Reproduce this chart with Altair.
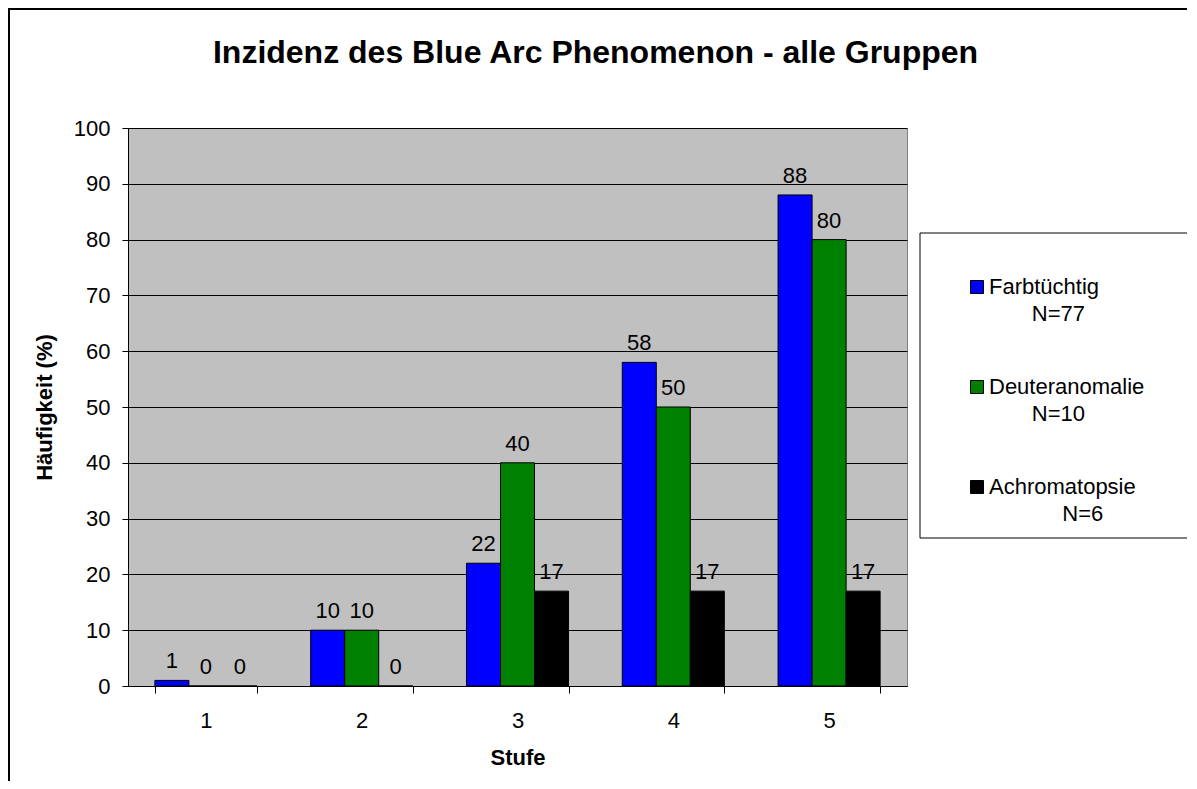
import altair as alt
import pandas as pd

# ---- data ----
stufen = ["1", "2", "3", "4", "5"]
gruppen = ["Farbtüchtig", "Deuteranomalie", "Achromatopsie"]
farbtuechtig = [1, 10, 22, 58, 88]
deuteranomalie = [0, 10, 40, 50, 80]
achromatopsie = [0, 0, 17, 17, 17]
n_werte = ["N=77", "N=10", "N=6"]
n_einzug = [7, 7, 12]  # indentation of the second legend line (non-breaking spaces)
farben = ["#0000FF", "#008000", "#000000"]
y_ticks = [0, 10, 20, 30, 40, 50, 60, 70, 80, 90, 100]

rows = []
for g, vals in zip(gruppen, [farbtuechtig, deuteranomalie, achromatopsie]):
    for s, v in zip(stufen, vals):
        rows.append({"Stufe": s, "Gruppe": g, "Wert": v})
df = pd.DataFrame(rows)

FONT = "Liberation Sans"
W, H = 779, 558

# legend label expression producing two-line labels
parts = []
for g, n, k in zip(gruppen, n_werte, n_einzug):
    indent = "\u200b" + "\u00a0" * k
    parts.append(f"datum.label == '{g}' ? ['{g}', '{indent}{n}']")
label_expr = " : ".join(parts) + " : datum.label"

x_enc = alt.X(
    "Stufe:N",
    sort=stufen,
    title="Stufe",
    scale=alt.Scale(paddingInner=0.345, paddingOuter=0.1725),
    axis=alt.Axis(
        labelAngle=0,
        tickBand="extent",
        tickSize=7,
        tickColor="black",
        domainColor="black",
        labelPadding=17,
        labelFontSize=22,
        labelFont=FONT,
        labelColor="black",
        titleFontSize=22,
        titleFont=FONT,
        titleFontWeight="bold",
        titleColor="black",
        titlePadding=16,
        grid=False,
    ),
)
xoff = alt.XOffset("Gruppe:N", sort=gruppen, scale=alt.Scale(paddingInner=0, paddingOuter=0))

y_enc = alt.Y(
    "Wert:Q",
    title="Häufigkeit (%)",
    scale=alt.Scale(domain=[0, 100], nice=False),
    axis=alt.Axis(
        values=y_ticks,
        grid=True,
        gridColor="black",
        gridOpacity=1,
        tickSize=6,
        tickColor="black",
        domainColor="black",
        labelPadding=12,
        labelFontSize=22,
        labelFont=FONT,
        labelColor="black",
        titleFontSize=22,
        titleFont=FONT,
        titleFontWeight="bold",
        titleColor="black",
        titlePadding=17,
    ),
)

color_enc = alt.Color(
    "Gruppe:N",
    sort=gruppen,
    scale=alt.Scale(domain=gruppen, range=farben),
    legend=alt.Legend(
        title=None,
        orient="none",
        legendX=838,
        legendY=148,
        padding=0,
        symbolType="square",
        symbolSize=169,
        symbolStrokeColor="black",
        symbolStrokeWidth=1,
        symbolOffset=0,
        labelOffset=1,
        labelFontSize=22,
        labelFont=FONT,
        labelColor="black",
        labelExpr=label_expr,
        rowPadding=51,
    ),
)

bars = alt.Chart(df).mark_bar(stroke="black", strokeWidth=1).encode(
    x=x_enc, xOffset=xoff, y=y_enc, color=color_enc
)

labels = alt.Chart(df).mark_text(
    baseline="alphabetic", dy=-12, fontSize=22, font=FONT, color="black"
).encode(
    x=alt.X("Stufe:N", sort=stufen),
    xOffset=alt.XOffset("Gruppe:N", sort=gruppen),
    y="Wert:Q",
    text="Wert:Q",
)

# decorative outer frame of the figure
frame = alt.Chart(alt.Data(values=[{"f": 1}])).mark_rect(
    fill=None, stroke="black", strokeWidth=2
).encode(
    x=alt.value(-119), x2=alt.value(W + 300),
    y=alt.value(-119), y2=alt.value(H + 200),
)

# decorative box behind the legend
legend_box = alt.Chart(alt.Data(values=[{"f": 1}])).mark_rect(
    fill="white", stroke="black", strokeWidth=1
).encode(
    x=alt.value(792), x2=alt.value(1064),
    y=alt.value(105), y2=alt.value(410),
)

chart = alt.layer(bars, labels, frame, legend_box).properties(
    width=W,
    height=H,
    title=alt.Title(
        "Inzidenz des Blue Arc Phenomenon - alle Gruppen",
        fontSize=32,
        font=FONT,
        fontWeight="bold",
        color="black",
        anchor="middle",
        frame="group",
        baseline="alphabetic",
        offset=-87,
        dx=78,
    ),
    autosize=alt.AutoSizeParams(type="none"),
    padding={"left": 120, "top": 120, "right": 280, "bottom": 95},
).configure(
    background="white",
    style={"guide-label": {"lineHeight": 27}},
).configure_view(
    fill="#C0C0C0", stroke="#808080", strokeWidth=1
)

chart.save("out.html", embed_options={"renderer": "svg", "actions": False})
